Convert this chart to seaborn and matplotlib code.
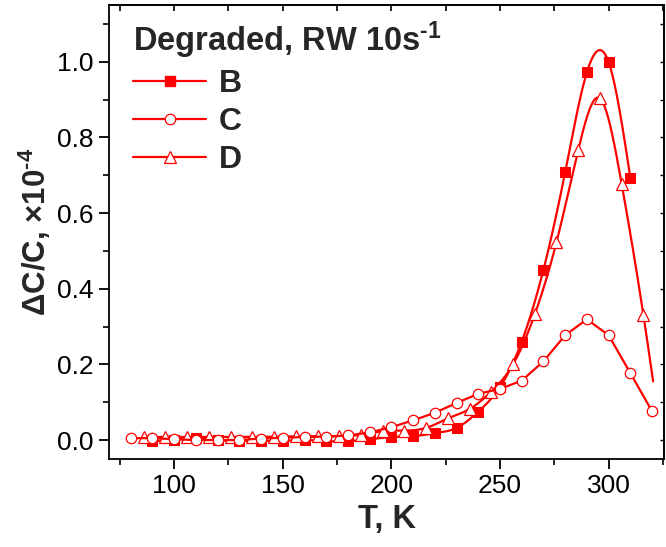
import numpy as np
import pandas as pd
import matplotlib
matplotlib.use("Agg")
import matplotlib.pyplot as plt
from matplotlib.lines import Line2D
from matplotlib.ticker import MultipleLocator
import seaborn as sns

# ---------------- data ----------------
T_B = [90, 100, 110, 120, 130, 140, 150, 160, 170, 180, 190, 200, 210, 220,
       230, 240, 250, 260, 270, 280, 290, 300, 310]
V_B = [-0.003, 0.0, 0.006, 0.0, -0.002, -0.002, -0.002, 0.0, -0.003, -0.003,
       0.002, 0.008, 0.010, 0.018, 0.032, 0.075, 0.140, 0.260, 0.450, 0.708,
       0.972, 0.999, 0.693]

T_C = [80, 90, 100, 110, 120, 130, 140, 150, 160, 170, 180, 190, 200, 210,
       220, 230, 240, 250, 260, 270, 280, 290, 300, 310, 320]
V_C = [0.005, 0.005, 0.002, 0.0, 0.0, 0.0, 0.004, 0.006, 0.008, 0.009, 0.012,
       0.020, 0.034, 0.052, 0.072, 0.098, 0.122, 0.135, 0.157, 0.208, 0.277,
       0.319, 0.277, 0.177, 0.076]

T_D = [86, 96, 106, 116, 126, 136, 146, 156, 166, 176, 186, 196, 206, 216,
       226, 236, 246, 256, 266, 276, 286, 296, 306, 316, 320.5]
V_D = [0.008, 0.008, 0.008, 0.008, 0.008, 0.008, 0.009, 0.010, 0.010, 0.010,
       0.014, 0.023, 0.025, 0.032, 0.057, 0.082, 0.128, 0.200, 0.332, 0.523,
       0.766, 0.903, 0.677, 0.331, 0.155]
D_MARKED = 24  # last D value is the curve's end, drawn without a marker

X_TICKS = [100, 150, 200, 250, 300]
Y_TICKS = [0.0, 0.2, 0.4, 0.6, 0.8, 1.0]
LABELS = ["B", "C", "D"]
LEGEND_TITLE = "Degraded, RW 10s$^{\u2010 1}$"
X_LABEL = "T, K"
Y_LABEL = "ΔC/C, ×10$^{\u20104}$"

RED = "#FF0000"


def natural_spline(x, y, n=600):
    """Smooth connecting line (natural cubic spline) through the points."""
    x = np.asarray(x, float)
    y = np.asarray(y, float)
    m = len(x)
    h = np.diff(x)
    A = np.zeros((m, m))
    r = np.zeros(m)
    A[0, 0] = A[-1, -1] = 1.0
    for i in range(1, m - 1):
        A[i, i - 1] = h[i - 1]
        A[i, i] = 2 * (h[i - 1] + h[i])
        A[i, i + 1] = h[i]
        r[i] = 6 * ((y[i + 1] - y[i]) / h[i] - (y[i] - y[i - 1]) / h[i - 1])
    M = np.linalg.solve(A, r)
    xs = np.linspace(x[0], x[-1], n)
    idx = np.clip(np.searchsorted(x, xs) - 1, 0, m - 2)
    x0, x1 = x[idx], x[idx + 1]
    hh = x1 - x0
    a = (x1 - xs) / hh
    b = (xs - x0) / hh
    ys = (a * y[idx] + b * y[idx + 1]
          + ((a ** 3 - a) * M[idx] + (b ** 3 - b) * M[idx + 1]) * hh ** 2 / 6)
    return xs, ys


sns.set_theme(style="ticks")
plt.rcParams["font.family"] = ["Liberation Sans", "DejaVu Sans"]
plt.rcParams["mathtext.fontset"] = "custom"
plt.rcParams["mathtext.rm"] = "Liberation Sans:bold"
plt.rcParams["mathtext.bf"] = "Liberation Sans:bold"
plt.rcParams["mathtext.default"] = "bf"

fig = plt.figure(figsize=(6.66, 5.47), dpi=100)
ax = fig.add_axes([0.1637, 0.161, 0.8333, 0.830])

LW = 1.6
MS_SQ, MS_CI, MS_TR = 7, 7.5, 8.2

# B : smooth curve + filled squares
xs, ys = natural_spline(T_B, V_B)
sns.lineplot(x=xs, y=ys, ax=ax, color=RED, lw=LW, sort=False, estimator=None, zorder=2)
sns.lineplot(x=T_B, y=V_B, ax=ax, color=RED, lw=0, marker="s", markersize=MS_SQ,
             markerfacecolor=RED, markeredgecolor=RED, sort=False, estimator=None, zorder=3)

# D : smooth curve + open triangles
xs, ys = natural_spline(T_D, V_D)
sns.lineplot(x=xs, y=ys, ax=ax, color=RED, lw=LW, sort=False, estimator=None, zorder=2)
sns.lineplot(x=T_D[:D_MARKED], y=V_D[:D_MARKED], ax=ax, color=RED, lw=0, marker="^",
             markersize=MS_TR, markerfacecolor="white", markeredgecolor=RED,
             markeredgewidth=0.9, sort=False, estimator=None, zorder=4)

# C : straight segments + open circles
sns.lineplot(x=T_C, y=V_C, ax=ax, color=RED, lw=LW, marker="o", markersize=MS_CI,
             markerfacecolor="white", markeredgecolor=RED, markeredgewidth=0.9,
             sort=False, estimator=None, zorder=5)

ax.set_xlim(70, 325.5)
ax.set_ylim(-0.05, 1.15)
ax.set_xticks(X_TICKS)
ax.set_yticks(Y_TICKS)
ax.set_yticklabels([f"{v:.1f}" for v in Y_TICKS])
ax.xaxis.set_minor_locator(MultipleLocator(25))
ax.yaxis.set_minor_locator(MultipleLocator(0.1))

for s in ax.spines.values():
    s.set_visible(True)
    s.set_linewidth(1.3)
    s.set_color("black")

ax.tick_params(which="major", direction="out", length=7, width=1.3,
               labelsize=19, colors="black", pad=4)
ax.tick_params(which="minor", direction="out", length=4, width=1.2, colors="black")

top = ax.secondary_xaxis("top")
top.set_xticks(X_TICKS)
top.xaxis.set_minor_locator(MultipleLocator(25))
top.tick_params(which="both", direction="in", length=4, width=1.2, labeltop=False,
                colors="black")
top.spines["top"].set_linewidth(1.3)
right = ax.secondary_yaxis("right")
right.set_yticks(Y_TICKS)
right.yaxis.set_minor_locator(MultipleLocator(0.1))
right.tick_params(which="both", direction="in", length=3, width=1.0, labelright=False,
                  colors="black")

ax.set_xlabel(X_LABEL, fontsize=23.5, fontweight="bold", labelpad=4)
ax.set_ylabel(Y_LABEL, fontsize=22.5, fontweight="bold", labelpad=3)

handles = [
    Line2D([], [], color=RED, lw=LW, marker="s", markersize=MS_SQ, mfc=RED, mec=RED),
    Line2D([], [], color=RED, lw=LW, marker="o", markersize=MS_CI, mfc="white", mec=RED, mew=0.9),
    Line2D([], [], color=RED, lw=LW, marker="^", markersize=MS_TR, mfc="white", mec=RED, mew=0.9),
]
leg = ax.legend(handles, LABELS, title=LEGEND_TITLE, loc="upper left",
                bbox_to_anchor=(0.02, 0.997), frameon=False, borderaxespad=0,
                prop={"weight": "bold", "size": 23},
                title_fontproperties={"weight": "bold", "size": 23.5},
                handlelength=2.3, handletextpad=0.38, labelspacing=0.26,
                alignment="left", numpoints=1)

fig.savefig("out.png", dpi=100)
